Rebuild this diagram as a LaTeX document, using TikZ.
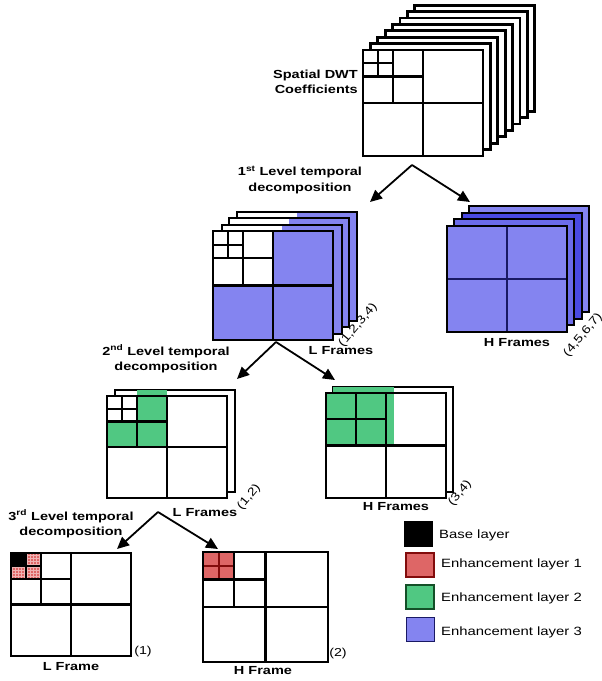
\documentclass[tikz,border=0pt]{standalone}
\usepackage{fontspec}
\setmainfont[FakeStretch=1.24]{Liberation Sans}
\usetikzlibrary{arrows.meta,patterns}

\definecolor{enhred}{RGB}{222,102,102}
\definecolor{enhgreen}{RGB}{80,200,130}
\definecolor{enhblue}{RGB}{132,132,240}
\definecolor{enhbluemid}{RGB}{108,108,234}
\definecolor{enhbluedeep}{RGB}{74,74,226}
\definecolor{darkred}{RGB}{130,12,12}
\definecolor{darkgreen}{RGB}{20,80,40}
\definecolor{navy}{RGB}{25,25,100}

\tikzstyle{frame}=[draw=black,line width=2.7pt,fill=white]
\tikzstyle{band}=[line width=2.2pt]
\tikzstyle{levellabel}=[font=\fontsize{11.7}{15.5}\selectfont\bfseries,align=center,inner sep=0pt]
\tikzstyle{framenum}=[font=\fontsize{11.5}{13}\selectfont,inner sep=0pt]
\tikzstyle{legendtext}=[font=\fontsize{12}{14}\selectfont,anchor=west,inner sep=0pt]
\tikzstyle{keybox}=[draw,line width=1.1pt,minimum width=28pt,minimum height=24pt,inner sep=0pt]
\tikzstyle{decomp}=[-{Triangle[length=12pt,width=11pt]},line width=1.8pt]

% one dyadic split of the region at (x,y) of size w x h
\newcommand{\quadsplit}[5][]{%
  \draw[band,#1] (#2+#4/2,#3) -- (#2+#4/2,#3+#5) (#2,#3+#5/2) -- (#2+#4,#3+#5/2);}

\begin{document}
\begin{tikzpicture}[x=1pt,y=-1pt]
\useasboundingbox (0,0) rectangle (602,681);

% spatial DWT coefficients
\foreach \i in {7,...,1}
  \draw[frame] ({363+7.4*\i},{50-6.4*\i}) rectangle ++(120,106);
\draw[frame] (363,50) rectangle ++(120,106);
\quadsplit{363}{50}{120}{106}
\quadsplit{363}{50}{60}{53}
\quadsplit{363}{50}{30}{26.5}
\node[levellabel,anchor=east,align=right] (coef) at (358,82) {Spatial DWT\\Coefficients};

% 1st level
\coordinate (fork1) at (412,165);
\coordinate (toL1) at (370,202);
\coordinate (toH1) at (470,202);
\draw[decomp] (fork1) -- (toL1);
\draw[decomp] (fork1) -- (toH1);
\node[levellabel] (lev1) at (300,180) {1\textsuperscript{st} Level temporal\\decomposition};

\foreach \x/\y in {237/212, 229/218, 222/225} {
  \fill[white] (\x,\y) rectangle ++(120,109);
  \fill[enhblue] (\x+60,\y) rectangle ++(60,109);
  \fill[enhblue] (\x,\y+54.5) rectangle ++(60,54.5);
  \draw[frame,fill=none] (\x,\y) rectangle ++(120,109);
}
\fill[white] (213,231) rectangle ++(120,109);
\fill[enhblue] (273,231) rectangle ++(60,109);
\fill[enhblue] (213,285.5) rectangle ++(60,54.5);
\quadsplit{213}{231}{120}{109}
\quadsplit{213}{231}{60}{54.5}
\quadsplit{213}{231}{30}{27.25}
\draw[frame,fill=none] (213,231) rectangle ++(120,109);
\node[levellabel] (L1) at (341,351) {L Frames};
\node[framenum,rotate=50] (L1num) at (358,325) {(1,2,3,4)};

\foreach \x/\y/\c in {469/206/enhblue, 462/213/enhbluedeep, 454/219/enhbluemid}
  \draw[frame,fill=\c] (\x,\y) rectangle ++(120,106);
\draw[frame,fill=enhblue] (447,226) rectangle ++(120,106);
\quadsplit[navy]{447}{226}{120}{106}
\draw[frame,fill=none] (447,226) rectangle ++(120,106);
\node[levellabel] (H1) at (517,343) {H Frames};
\node[framenum,rotate=50] (H1num) at (583,335) {(4,5,6,7)};

% 2nd level
\coordinate (fork2) at (276,342);
\coordinate (toL2) at (237,379);
\coordinate (toH2) at (335,380);
\draw[decomp] (fork2) -- (toL2);
\draw[decomp] (fork2) -- (toH2);
\node[levellabel] (lev2) at (166,359) {2\textsuperscript{nd} Level temporal\\decomposition};

\draw[frame] (115,390) rectangle ++(120,102);
\fill[enhgreen] (137,390) rectangle (167,396);
\fill[white] (107,396) rectangle ++(120,102);
\fill[enhgreen] (137,396) rectangle (167,447);
\fill[enhgreen] (107,421.5) rectangle (137,447);
\quadsplit{107}{396}{120}{102}
\quadsplit{107}{396}{60}{51}
\quadsplit{107}{396}{30}{25.5}
\draw[frame,fill=none] (107,396) rectangle ++(120,102);
\node[levellabel] (L2) at (205,513) {L Frames};
\node[framenum,rotate=50] (L2num) at (249,497) {(1,2)};

\draw[frame] (333,387) rectangle ++(120,105);
\fill[white] (326,393) rectangle ++(120,105);
\fill[enhgreen] (333,387) rectangle (394,447);
\fill[enhgreen] (326,393) rectangle ++(60,52.5);
\quadsplit{326}{393}{120}{105}
\quadsplit{326}{393}{60}{52.5}
\draw[frame,fill=none] (326,393) rectangle ++(120,105);
\node[levellabel] (H2) at (396,507) {H Frames};
\node[framenum,rotate=50] (H2num) at (460,493) {(3,4)};

% 3rd level
\coordinate (fork3) at (158,512);
\coordinate (toL3) at (117,549);
\coordinate (toH3) at (218,549);
\draw[decomp] (fork3) -- (toL3);
\draw[decomp] (fork3) -- (toH3);
\node[levellabel] (lev3) at (71,524) {3\textsuperscript{rd} Level temporal\\decomposition};

\fill[white] (11,553) rectangle ++(120,103);
\fill[black] (11,553) rectangle ++(15,12.9);
\foreach \x/\y in {26/553, 11/565.9, 26/565.9} {
  \fill[enhred] (\x,\y) rectangle ++(15,12.9);
  \fill[pattern=grid,pattern color=white!50!enhred] (\x,\y) rectangle ++(15,12.9);
}
\quadsplit{11}{553}{120}{103}
\quadsplit{11}{553}{60}{51.5}
\quadsplit{11}{553}{30}{25.75}
\draw[frame,fill=none] (11,553) rectangle ++(120,103);
\node[levellabel] (L3) at (71,667) {L Frame};
\node[framenum] (L3num) at (143,652) {(1)};

\fill[white] (203,552) rectangle ++(125,110);
\draw[fill=enhred,draw=darkred,line width=2.2pt] (203,552) rectangle ++(31.25,27.5);
\quadsplit[darkred]{203}{552}{31.25}{27.5}
\quadsplit{203}{552}{125}{110}
\quadsplit{203}{552}{62.5}{55}
\draw[frame,fill=none] (203,552) rectangle ++(125,110);
\node[levellabel] (H3) at (263,671) {H Frame};
\node[framenum] (H3num) at (338,654) {(2)};

% legend
\node[keybox,fill=black] (kbase) at (418.5,534) {};
\node[keybox,fill=enhred,draw=darkred] (kred) at (420,565) {};
\node[keybox,fill=enhgreen,draw=darkgreen] (kgreen) at (420,597) {};
\node[keybox,fill=enhblue,draw=navy] (kblue) at (420.5,629.5) {};
\node[legendtext] (tbase) at (439,535) {Base layer};
\node[legendtext] (tred) at (441,564) {Enhancement layer 1};
\node[legendtext] (tgreen) at (441,598) {Enhancement layer 2};
\node[legendtext] (tblue) at (441,632) {Enhancement layer 3};
\end{tikzpicture}
\end{document}
